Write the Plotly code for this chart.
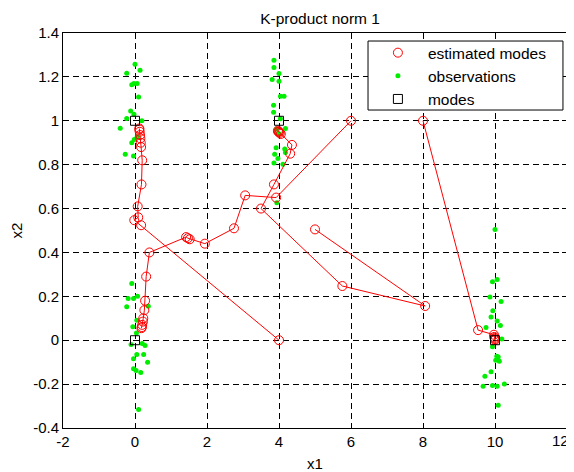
import plotly.graph_objects as go

# ---- data ----
# observations (green dots)
obs_x = [0.0, -0.23, 0.14, -0.09, -0.03, 0.06, 0.10, -0.12, -0.03, -0.23, -0.41, 0.19, -0.02, -0.09, -0.27, -0.04, 0.06,
         -0.09, -0.19, -0.04, 0.07, -0.23, 0.37, 0.05, -0.06, 0.04, -0.11, 0.20, 0.28, 0.05, 0.24, -0.04, 0.35, -0.04, 0.03, 0.16, 0.10,
         3.86, 3.86, 4.0, 3.81, 4.0, 4.04, 4.14, 3.85, 3.85, 4.04, 3.93, 4.18, 3.99, 3.92, 4.16, 4.18, 3.88, 3.97, 3.86, 4.11, 3.94,
         10.0, 9.93, 10.06, 9.86, 10.17, 9.94, 9.89, 10.06, 10.15, 9.75, 10.19, 9.93, 10.05, 10.09, 10.02, 10.12, 9.89, 9.72, 9.67, 9.93, 10.06, 10.26, 10.09]
obs_y = [1.258, 1.217, 1.23, 1.164, 1.17, 1.17, 1.108, 1.044, 1.03, 1.01, 0.966, 1.0, 0.915, 0.90, 0.848, 0.839, 0.927,
         0.258, 0.19, 0.19, 0.20, 0.152, 0.155, 0.091, 0.061, 0.033, -0.02, -0.015, -0.024, -0.065, -0.065, -0.084, -0.10, -0.13, -0.138, -0.147, -0.316,
         1.276, 1.243, 1.215, 1.188, 1.18, 1.112, 1.112, 1.071, 1.039, 1.009, 0.963, 0.965, 0.942, 0.877, 0.871, 0.855, 0.848, 0.828, 0.808, 0.802, 0.626,
         0.504, 0.266, 0.277, 0.197, 0.176, 0.134, 0.106, 0.088, 0.067, 0.058, 0.006, -0.03, -0.073, -0.076, -0.091, -0.096, -0.144, -0.164, -0.21, -0.206, -0.21, -0.2, -0.296]

# true modes (black squares)
mode_x = [0, 0, 4, 10]
mode_y = [1, 0, 1, 0]

# estimated-mode trajectories (red circles joined by lines)
traj1_x = [4.0, 0.17, -0.02, 0.09, 0.075, 0.18, 0.20, 0.17, 0.16, 0.15, 0.14, 0.13, 0.12, 0.12]
traj1_y = [0.0, 0.524, 0.547, 0.56, 0.61, 0.71, 0.82, 0.88, 0.90, 0.92, 0.935, 0.95, 0.96, 0.965]
traj2_x = [6.0, 3.92, 3.06, 2.75, 1.94, 1.52, 1.47, 1.42, 0.40, 0.31, 0.28, 0.26, 0.23, 0.22, 0.20, 0.19, 0.18]
traj2_y = [1.0, 0.65, 0.66, 0.51, 0.44, 0.46, 0.465, 0.47, 0.40, 0.29, 0.18, 0.137, 0.10, 0.085, 0.07, 0.06, 0.055]
traj3_x = [8.0, 9.53, 9.97, 9.98, 9.99, 10.0, 10.0]
traj3_y = [1.0, 0.046, 0.025, 0.015, 0.01, 0.005, 0.0]
traj4_x = [5.0, 8.06, 5.76, 3.50, 3.86, 4.31, 4.36, 4.05, 4.02, 4.0, 3.98, 3.97]
traj4_y = [0.505, 0.156, 0.247, 0.60, 0.71, 0.85, 0.89, 0.94, 0.945, 0.95, 0.95, 0.955]

x_ticks = [-2, 0, 2, 4, 6, 8, 10, 12]
x_tick_text = ["-2", "0", "2", "4", "6", "8", "10", "12"]
y_ticks = [-0.4, -0.2, 0, 0.2, 0.4, 0.6, 0.8, 1.0, 1.2, 1.4]
y_tick_text = ["-0.4", "-0.2", "0", "0.2", "0.4", "0.6", "0.8", "1", "1.2", "1.4"]

trajs = [(traj1_x, traj1_y), (traj2_x, traj2_y), (traj3_x, traj3_y), (traj4_x, traj4_y)]
line_x, line_y, est_x, est_y = [], [], [], []
for tx, ty in trajs:
    line_x += tx + [None]
    line_y += ty + [None]
    est_x += tx
    est_y += ty

fig = go.Figure()
fig.add_trace(go.Scatter(x=obs_x, y=obs_y, mode="markers", name="observations",
                         marker=dict(color="#00ee00", size=5), legendrank=2))
fig.add_trace(go.Scatter(x=line_x, y=line_y, mode="lines", showlegend=False,
                         line=dict(color="red", width=1), hoverinfo="skip"))
fig.add_trace(go.Scatter(x=est_x, y=est_y, mode="markers", name="estimated modes",
                         marker=dict(symbol="circle-open", color="red", size=9, line=dict(width=1)),
                         legendrank=1))
fig.add_trace(go.Scatter(x=mode_x, y=mode_y, mode="markers", name="modes",
                         marker=dict(symbol="square-open", color="black", size=9, line=dict(width=1)),
                         legendrank=3))

axis_common = dict(showline=True, linecolor="black", linewidth=1, mirror="ticks",
                   ticks="inside", ticklen=5, tickcolor="black",
                   showgrid=True, gridcolor="black", gridwidth=1, griddash="6px,4px",
                   zeroline=False, automargin=False,
                   tickfont=dict(size=15, color="black"))

# the last x tick label is placed as an annotation so it is not clipped at the page edge
fig.update_xaxes(range=[-2, 12], tickvals=x_ticks[:-1], ticktext=x_tick_text[:-1],
                 title=dict(text="x1", font=dict(size=15, color="black"), standoff=12), **axis_common)
fig.update_yaxes(range=[-0.4, 1.4], tickvals=y_ticks, ticktext=y_tick_text,
                 title=dict(text="x2", font=dict(size=15, color="black"), standoff=30), **axis_common)

fig.add_annotation(x=1, xref="paper", y=0, yref="paper", text=x_tick_text[-1],
                   showarrow=False, xanchor="right", yanchor="top", xshift=4, yshift=-2,
                   font=dict(size=15, color="black"))

# MATLAB-style legend frame (wider than plotly's own box)
fig.add_shape(type="rect", xref="paper", yref="paper", x0=0.6052, x1=0.992, y0=0.805, y1=0.9797,
              line=dict(color="black", width=1), fillcolor="white", layer="above")

fig.update_layout(
    width=566, height=464,
    margin=dict(l=55, r=7, t=25, b=44),
    paper_bgcolor="white", plot_bgcolor="white",
    font=dict(family="Liberation Sans, Arial, sans-serif", size=15, color="black"),
    title=dict(text="K-product norm 1", x=0.5513, xanchor="center", yref="container", y=0.978, yanchor="middle",
               font=dict(size=15.5, color="black")),
    legend=dict(x=0.605, y=0.9922, xanchor="left", yanchor="top", bgcolor="rgba(0,0,0,0)",
                borderwidth=0, font=dict(size=15.5, color="black"),
                itemwidth=50, tracegroupgap=0),
    showlegend=True,
)

fig.write_html("out.html")
